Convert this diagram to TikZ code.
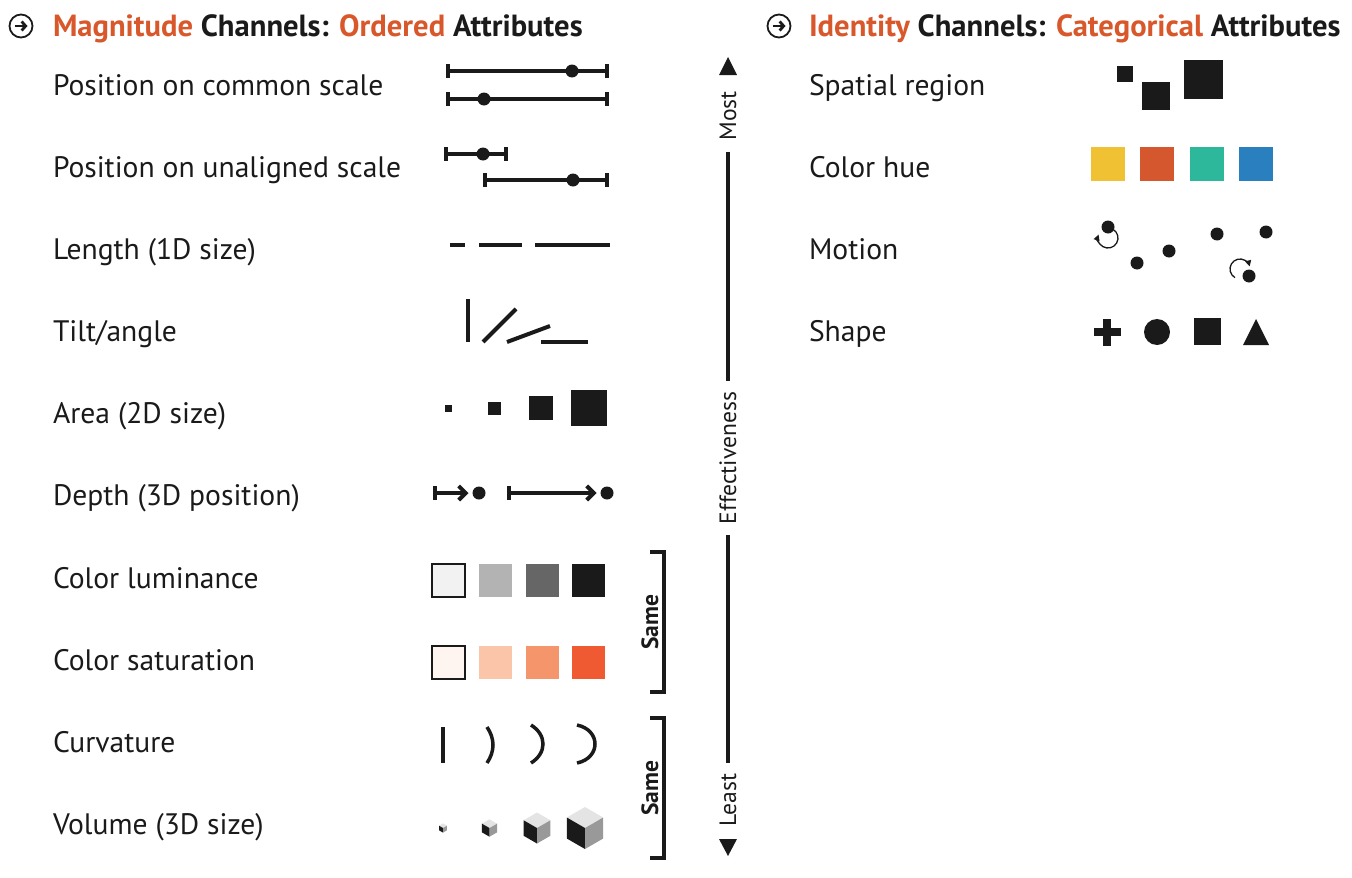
\documentclass[tikz,border=0pt]{standalone}
\usepackage{fontspec}
\setmainfont{PT Sans}
\usetikzlibrary{arrows.meta}

\definecolor{ink}{HTML}{1A1A1A}
\definecolor{accent}{HTML}{D9582B}
\definecolor{lumA}{HTML}{F2F2F2}
\definecolor{lumB}{HTML}{B3B3B3}
\definecolor{lumC}{HTML}{666666}
\definecolor{lumD}{HTML}{1A1A1A}
\definecolor{satA}{HTML}{FFF5F0}
\definecolor{satB}{HTML}{FBC5AA}
\definecolor{satC}{HTML}{F4956C}
\definecolor{satD}{HTML}{F05A33}
\definecolor{hueA}{HTML}{F0C233}
\definecolor{hueB}{HTML}{D4572E}
\definecolor{hueC}{HTML}{2DB89B}
\definecolor{hueD}{HTML}{2A80BE}
\definecolor{cubetop}{HTML}{E4E4E4}
\definecolor{cubeside}{HTML}{999999}

% isometric cube: centre x, centre y, edge
\newcommand{\isocube}[3]{%
  \begin{scope}[shift={(#1,#2)},scale=#3]
    \fill[cubetop] (0,-1) -- (0.866,-0.5) -- (0,0) -- (-0.866,-0.5) -- cycle;
    \fill[ink] (-0.866,-0.5) -- (0,0) -- (0,1) -- (-0.866,0.5) -- cycle;
    \fill[cubeside] (0,0) -- (0.866,-0.5) -- (0.866,0.5) -- (0,1) -- cycle;
  \end{scope}}

\begin{document}
\begin{tikzpicture}[x=1pt,y=-1pt,line width=4pt,color=ink,
  chan node/.style={anchor=base west,inner sep=0,text=ink,font=\fontsize{29.6}{34}\selectfont},
  head node/.style={anchor=base west,inner sep=0,text=ink,font=\bfseries\fontsize{30.6}{36}\selectfont},
  axis node/.style={rotate=90,inner sep=9pt,text=ink,font=\fontsize{23.6}{28}\selectfont},
  same node/.style={rotate=90,inner sep=0,text=ink,font=\bfseries\fontsize{23.5}{28}\selectfont},
  swatch/.style={minimum size=33pt,inner sep=0},
  hue/.style={minimum size=34pt,inner sep=0},
  dot/.style={circle,fill=ink,minimum size=13pt,inner sep=0},
  icon/.style={draw=ink,circle,line width=1.8pt,minimum size=23pt,inner sep=0},
  scalebar/.style={{Bar[width=14pt]}-{Bar[width=14pt]}},
  depthbar/.style={{Bar[width=14pt]}-{Straight Barb[length=7pt,width=14pt]}},
  spin/.style={line width=1.3pt,-{Triangle[length=6pt,width=6pt]}}]
\useasboundingbox (0,0) rectangle (1352,878);

% headers
\node[icon] (ic1) at (21,26) {};
\node[icon] (ic2) at (779,26) {};
\draw[line width=2.8pt,-{Straight Barb[length=4pt,width=9pt]}] ([xshift=-6.5pt]ic1.center) -- ([xshift=6.5pt]ic1.center);
\draw[line width=2.8pt,-{Straight Barb[length=4pt,width=9pt]}] ([xshift=-6.5pt]ic2.center) -- ([xshift=6.5pt]ic2.center);
\node[head node] (head1) at (51,36) {\textcolor{accent}{Magnitude} Channels: \textcolor{accent}{Ordered} Attributes};
\node[head node] (head2) at (807,36) {\textcolor{accent}{Identity} Channels: \textcolor{accent}{Categorical} Attributes};

% magnitude channels
\node[chan node] (pos) at (51,95) {Position on common scale};
\node[chan node] (unal) at (51,177) {Position on unaligned scale};
\node[chan node] (len) at (51,259) {Length (1D size)};
\node[chan node] (tilt) at (51,341) {Tilt/angle};
\node[chan node] (area) at (51,423) {Area (2D size)};
\node[chan node] (depth) at (51,505) {Depth (3D position)};
\node[chan node] (lum) at (51,588) {Color luminance};
\node[chan node] (sat) at (51,670) {Color saturation};
\node[chan node] (curv) at (51,752) {Curvature};
\node[chan node] (vol) at (51,834) {Volume (3D size)};

% identity channels
\node[chan node] (region) at (807,95) {Spatial region};
\node[chan node] (hue) at (807,177) {Color hue};
\node[chan node] (motion) at (807,259) {Motion};
\node[chan node] (shape) at (807,341) {Shape};

% position
\draw[scalebar] (446,71) -- (609,71);
\draw[scalebar] (446,99) -- (609,99);
\node[dot] (p1) at (572,71) {};
\node[dot] (p2) at (484,99) {};
\draw[scalebar] (444,154) -- (508,154);
\draw[scalebar] (483,180) -- (609,180);
\node[dot] (u1) at (483,154) {};
\node[dot] (u2) at (573,180) {};

% length
\draw (450,245) -- (465,245);
\draw (479,245) -- (522,245);
\draw (535,245) -- (610,245);

% tilt
\draw (468,299) -- (468,342);
\draw (483,342) -- (516,309);
\draw (507,342) -- (550,326);
\draw (541,342) -- (588,342);

% area
\fill (444.5,404.5) rectangle (451.5,411.5);
\fill (488,401.5) rectangle (501,414.5);
\fill (529,396) rectangle (553,420);
\fill (571,390) rectangle (607,426);

% depth
\node[dot] (dp1) at (479,493) {};
\node[dot] (dp2) at (607,493) {};
\coordinate (ds1) at (433,493);
\coordinate (ds2) at (507,493);
\draw[depthbar] (ds1) -- ([xshift=-2pt]dp1.west);
\draw[depthbar] (ds2) -- ([xshift=-2pt]dp2.west);

% luminance and saturation
\node[swatch,fill=lumA,draw=ink,line width=1.6pt] (l1) at (448.5,580.5) {};
\node[swatch,fill=lumB] (l2) at (495,580.5) {};
\node[swatch,fill=lumC] (l3) at (542.5,580.5) {};
\node[swatch,fill=lumD] (l4) at (588.5,580.5) {};
\node[swatch,fill=satA,draw=ink,line width=1.6pt] (s1) at (448.5,662.5) {};
\node[swatch,fill=satB] (s2) at (495,662.5) {};
\node[swatch,fill=satC] (s3) at (542.5,662.5) {};
\node[swatch,fill=satD] (s4) at (588.5,662.5) {};

% curvature
\draw[line width=3.5pt] (443,727) -- (443,763);
\draw[line width=3.5pt] (487,727) .. controls (495,739) and (495,751) .. (487,763);
\draw[line width=3.5pt] (531,725) .. controls (547,735) and (547,753) .. (531,763);
\draw[line width=3.5pt] (577,725) .. controls (601,730) and (601,758) .. (577,763);

% volume
\isocube{443}{828}{4.6}
\isocube{489.5}{828}{8.7}
\isocube{537}{828}{15.5}
\isocube{585}{828}{21}

% brackets
\draw (650,552) -- (664,552) -- (664,692) -- (650,692);
\draw (650,718) -- (664,718) -- (664,858) -- (650,858);
\node[same node] (same1) at (650,622) {Same};
\node[same node] (same2) at (650,788) {Same};

% effectiveness axis
\node[axis node] (most) at (728,116) {Most};
\node[axis node] (eff) at (728,458) {Effectiveness};
\node[axis node] (least) at (728,800) {Least};
\draw (most.west) -- (eff.east);
\draw (eff.west) -- (least.east);
\coordinate (tipup) at (728,57);
\coordinate (tipdown) at (728,856);
\fill (tipup) -- ++(-9,18) -- ++(18,0) -- cycle;
\fill (tipdown) -- ++(-9,-17) -- ++(18,0) -- cycle;

% spatial region
\fill (1117,66) rectangle (1133,82);
\fill (1142,82) rectangle (1170,110);
\fill (1184,60) rectangle (1223,99);

% color hue
\node[hue,fill=hueA] (h1) at (1108,164) {};
\node[hue,fill=hueB] (h2) at (1157,164) {};
\node[hue,fill=hueC] (h3) at (1207,164) {};
\node[hue,fill=hueD] (h4) at (1256,164) {};

% motion
\node[dot] (m1) at (1108,227) {};
\node[dot] (m2) at (1137,263) {};
\node[dot] (m3) at (1169,251) {};
\node[dot] (m4) at (1217,234) {};
\node[dot] (m5) at (1266,232) {};
\node[dot] (m6) at (1249,276) {};
\coordinate (turn1) at (1108,238);
\coordinate (turn2) at (1240,269);
\draw[spin] ([shift={(60:10pt)}]turn1) arc[start angle=60,end angle=-200,radius=10pt];
\draw[spin] ([shift={(240:10pt)}]turn2) arc[start angle=240,end angle=15,radius=10pt];

% shape
\fill (1093.5,328) rectangle (1120.5,336);
\fill (1103,318.5) rectangle (1111,345.5);
\fill (1157,332) circle (13pt);
\fill (1194,318) rectangle (1221,345);
\fill (1256,319) -- (1269,345) -- (1243,345) -- cycle;
\end{tikzpicture}
\end{document}
